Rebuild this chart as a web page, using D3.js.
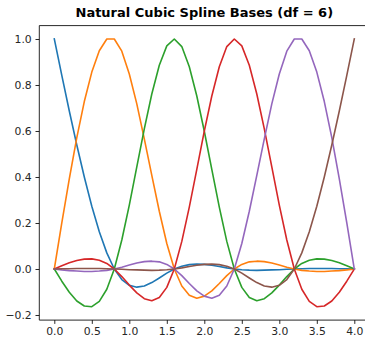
<!DOCTYPE html>
<html>
<head>
<meta charset="utf-8">
<script src="https://cdn.jsdelivr.net/npm/d3@7"></script>
<style>
  html, body { margin: 0; padding: 0; background: #fff; }
  svg { display: block; }
</style>
</head>
<body>
<script>
// ---- data (x grid and six basis functions) ----
const xValues = [0.0,0.1,0.2,0.3,0.4,0.5,0.6,0.7,0.8,0.9,1.0,1.1,1.2,1.3,1.4,1.5,1.6,1.7,1.8,1.9,2.0,
                 2.1,2.2,2.3,2.4,2.5,2.6,2.7,2.8,2.9,3.0,3.1,3.2,3.3,3.4,3.5,3.6,3.7,3.8,3.9,4.0];
const basis1 = [1,0.842,0.687,0.539,0.400,0.273,0.162,0.070,0,-0.046,-0.071,-0.079,-0.074,-0.059,-0.039,-0.018,0,
                0.012,0.019,0.021,0.020,0.016,0.011,0.005,0,-0.003,-0.005,-0.006,-0.005,-0.004,-0.003,-0.001,0,
                0.001,0.002,0.002,0.002,0.002,0.001,0.001,0];
const basis2 = [0,0.200,0.392,0.571,0.728,0.856,0.949,1.000,1,0.947,0.848,0.718,0.566,0.407,0.251,0.111,0,
                -0.074,-0.114,-0.127,-0.118,-0.095,-0.063,-0.029,0,0.020,0.031,0.034,0.032,0.026,0.017,0.008,0,
                -0.006,-0.009,-0.011,-0.011,-0.009,-0.007,-0.004,0];
const basis3 = [0,-0.053,-0.101,-0.139,-0.161,-0.164,-0.141,-0.088,0,0.126,0.278,0.444,0.609,0.761,0.886,0.970,1,
                0.967,0.879,0.752,0.599,0.433,0.269,0.120,0,-0.080,-0.124,-0.138,-0.129,-0.104,-0.070,-0.033,0,
                0.024,0.038,0.044,0.043,0.037,0.027,0.014,0];
const basis4 = [0,0.014,0.027,0.037,0.043,0.044,0.038,0.024,0,-0.033,-0.070,-0.104,-0.129,-0.138,-0.124,-0.080,0,
                0.120,0.269,0.433,0.599,0.752,0.879,0.967,1,0.970,0.886,0.761,0.609,0.444,0.278,0.126,0,
                -0.088,-0.141,-0.164,-0.161,-0.139,-0.101,-0.053,0];
const basis5 = [0,-0.004,-0.007,-0.009,-0.011,-0.011,-0.009,-0.006,0,0.008,0.017,0.026,0.032,0.034,0.031,0.020,0,
                -0.029,-0.063,-0.095,-0.118,-0.127,-0.114,-0.074,0,0.111,0.251,0.407,0.566,0.718,0.848,0.947,1,
                1.000,0.949,0.856,0.728,0.571,0.392,0.200,0];
const basis6 = [0,0.001,0.001,0.002,0.002,0.002,0.002,0.001,0,-0.001,-0.003,-0.004,-0.005,-0.006,-0.005,-0.003,0,
                0.005,0.011,0.016,0.020,0.021,0.019,0.012,0,-0.018,-0.039,-0.059,-0.074,-0.079,-0.071,-0.046,0,
                0.070,0.162,0.273,0.400,0.539,0.687,0.842,1];
const xTicks = [0, 0.5, 1, 1.5, 2, 2.5, 3, 3.5, 4];
const yTicks = [-0.2, 0, 0.2, 0.4, 0.6, 0.8, 1.0];
const titleText = "Natural Cubic Spline Bases (df = 6)";

// ---- layout ----
const W = 365, H = 340;
const mLeft = 39.3, mRight = 369.3, mTop = 25.6, mBottom = 320.1;
const colors = ["#1f77b4", "#ff7f0e", "#2ca02c", "#d62728", "#9467bd", "#8c564b"];
const seriesList = [basis1, basis2, basis3, basis4, basis5, basis6];

const svg = d3.select("body").append("svg").attr("width", W).attr("height", H);

const xMin = d3.min(xValues), xMax = d3.max(xValues);
const xPad = (xMax - xMin) * 0.05;
const allY = seriesList.flat();
const yMin = d3.min(allY), yMax = d3.max(allY);
const yPad = (yMax - yMin) * 0.05;

const x = d3.scaleLinear().domain([xMin - xPad, xMax + xPad]).range([mLeft, mRight]);
const y = d3.scaleLinear().domain([yMin - yPad, yMax + yPad]).range([mBottom, mTop]);

const fmt = d3.format(".1f");

// lines
const line = d3.line().x((d, i) => x(xValues[i])).y(d => y(d));
const plot = svg.append("g");
seriesList.forEach((s, k) => {
  plot.append("path")
    .datum(s)
    .attr("d", line)
    .attr("fill", "none")
    .attr("stroke", colors[k])
    .attr("stroke-width", 1.6)
    .attr("stroke-linejoin", "round")
    .attr("stroke-linecap", "square");
});

// axes
const xAxis = d3.axisBottom(x).tickValues(xTicks).tickFormat(fmt).tickSize(3.8).tickPadding(3.6);
const yAxis = d3.axisLeft(y).tickValues(yTicks).tickFormat(fmt).tickSize(3.8).tickPadding(3.8);

const gx = svg.append("g").attr("transform", `translate(0,${mBottom})`).call(xAxis);
const gy = svg.append("g").attr("transform", `translate(${mLeft},0)`).call(yAxis);

[gx, gy].forEach(g => {
  g.select(".domain").remove();
  g.selectAll(".tick line").attr("stroke", "#000").attr("stroke-width", 0.85);
  g.selectAll(".tick text")
    .attr("font-family", "DejaVu Sans")
    .attr("font-size", 10.8)
    .attr("fill", "#262626");
});

// spines
const spine = svg.append("g").attr("stroke", "#000").attr("stroke-width", 0.85).attr("fill", "none");
spine.append("line").attr("x1", mLeft).attr("x2", mLeft).attr("y1", mTop).attr("y2", mBottom);
spine.append("line").attr("x1", mLeft).attr("x2", mRight).attr("y1", mBottom).attr("y2", mBottom);
spine.append("line").attr("x1", mLeft).attr("x2", mRight).attr("y1", mTop).attr("y2", mTop);
spine.append("line").attr("x1", mRight).attr("x2", mRight).attr("y1", mTop).attr("y2", mBottom);

// title
svg.append("text")
  .attr("x", (mLeft + mRight) / 2)
  .attr("y", 17)
  .attr("text-anchor", "middle")
  .attr("font-family", "DejaVu Sans")
  .attr("font-weight", "bold")
  .attr("font-size", 13)
  .attr("fill", "#000")
  .text(titleText);
</script>
</body>
</html>
